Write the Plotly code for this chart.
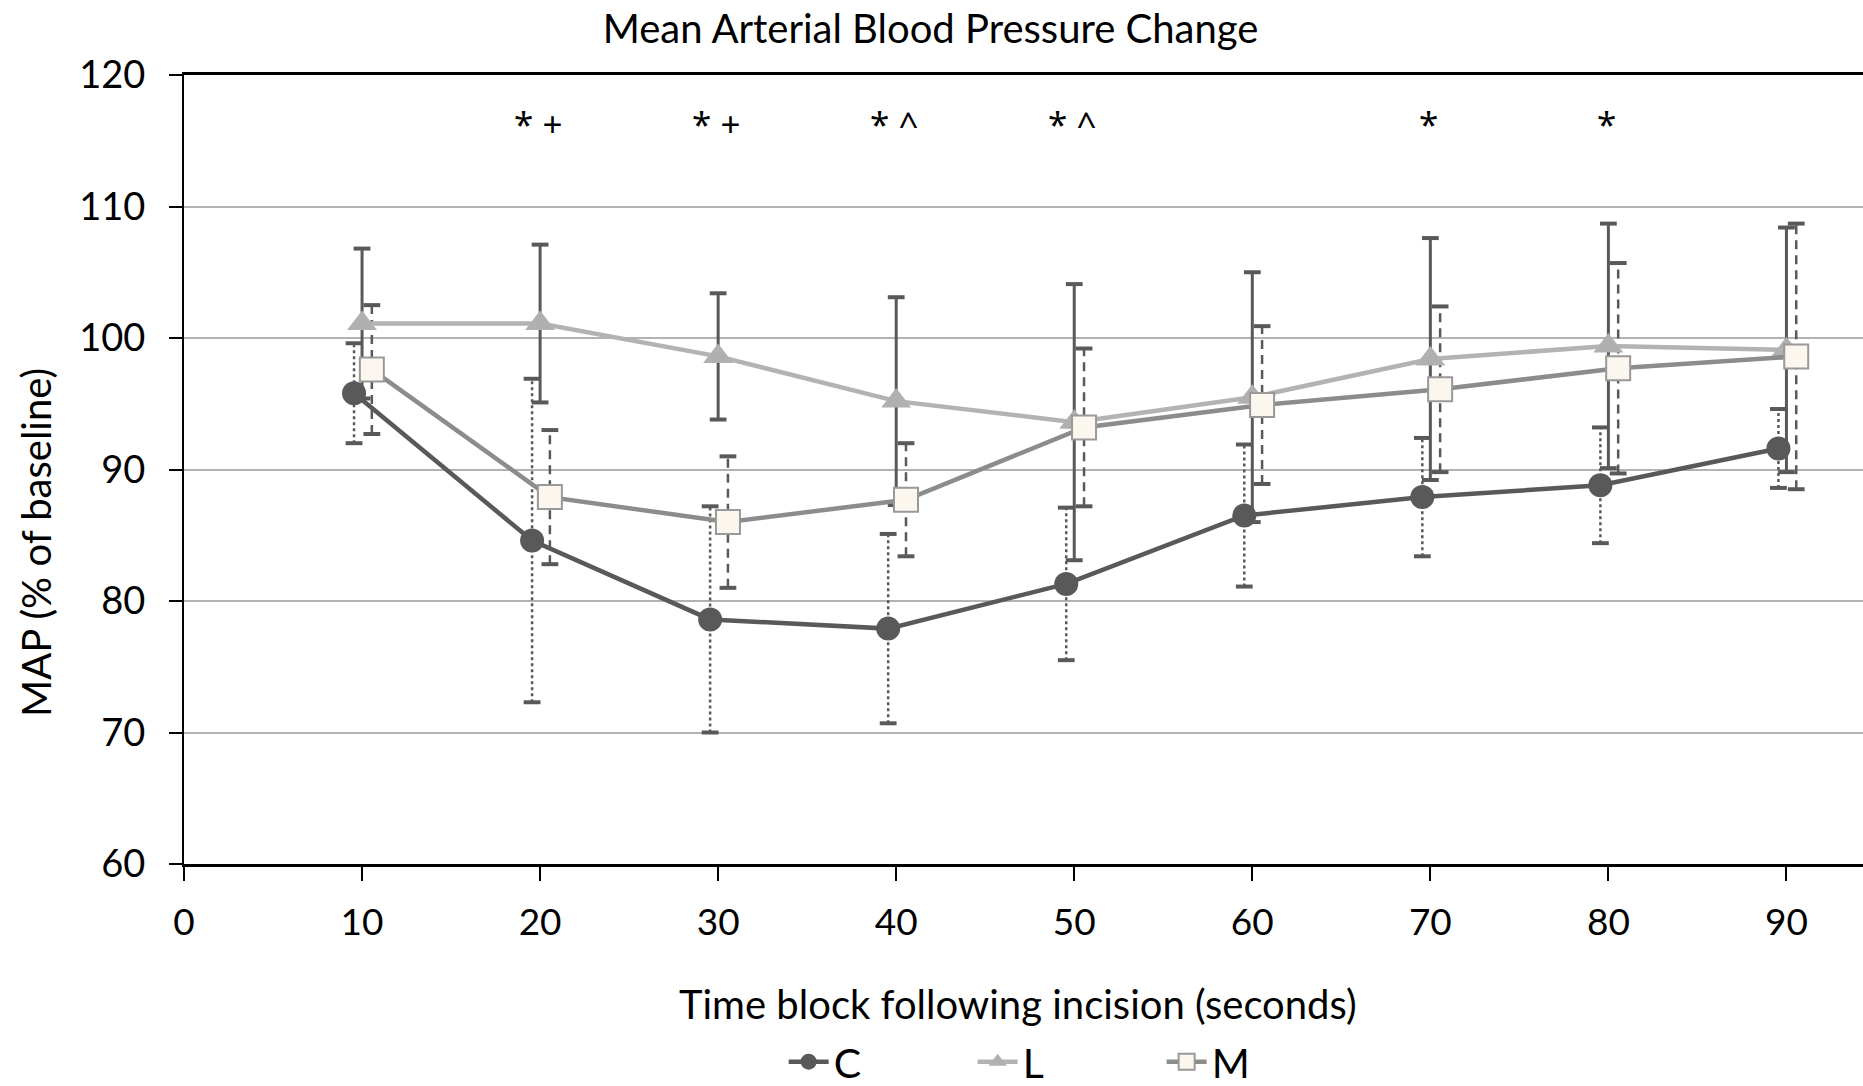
import plotly.graph_objects as go

# ---- data ----
time = [10, 20, 30, 40, 50, 60, 70, 80, 90]
C_mean = [95.8, 84.6, 78.6, 77.9, 81.3, 86.5, 87.9, 88.8, 91.6]
C_err = [3.8, 12.3, 8.6, 7.2, 5.8, 5.4, 4.5, 4.4, 3.0]
L_mean = [101.1, 101.1, 98.6, 95.2, 93.6, 95.5, 98.4, 99.4, 99.1]
L_err = [5.7, 6.0, 4.8, 7.9, 10.5, 9.5, 9.2, 9.3, 9.3]
M_mean = [97.6, 87.9, 86.0, 87.7, 93.2, 94.9, 96.1, 97.7, 98.6]
M_err = [4.9, 5.1, 5.0, 4.3, 6.0, 6.0, 6.3, 8.0, 10.1]
sig_time = [20, 30, 40, 50, 70, 80]
sig_text = ["* +", "* +", "* ^", "* ^", "*", "*"]

FONT = "Lato"
fig = go.Figure()

series = [
    dict(name="C", mean=C_mean, err=C_err, off=-0.45, line="#595959", dash="dot",
         marker=dict(symbol="circle", size=24, color="#595959")),
    dict(name="L", mean=L_mean, err=L_err, off=0.0, line="#b3b3b3", dash="solid",
         marker=dict(symbol="triangle-up", size=26, color="#b0b0b0")),
    dict(name="M", mean=M_mean, err=M_err, off=0.55, line="#8c8c8c", dash="9px,6px",
         marker=dict(symbol="square", size=24, color="#fcf7ee",
                     line=dict(color="#999999", width=2))),
]

# error bars (drawn first, beneath the lines)
for s in series:
    xs, ys, cx, cy = [], [], [], []
    for t, m, e in zip(time, s["mean"], s["err"]):
        x = t + s["off"]
        xs += [x, x, None]
        ys += [m - e, m + e, None]
        cx += [x, x]
        cy += [m - e, m + e]
    fig.add_trace(go.Scatter(x=xs, y=ys, mode="lines", showlegend=False, hoverinfo="skip",
                             line=dict(color="#595959", width=3 if s["dash"] == "solid" else 2.5,
                                       dash=s["dash"])))
    fig.add_trace(go.Scatter(x=cx, y=cy, mode="markers", showlegend=False, hoverinfo="skip",
                             marker=dict(symbol="line-ew", size=12,
                                         line=dict(color="#595959", width=4))))

for s in series:
    fig.add_trace(go.Scatter(
        x=[t + s["off"] for t in time], y=s["mean"], name=s["name"], mode="lines+markers",
        line=dict(color=s["line"], width=4.5), marker=s["marker"]))

for t, txt in zip(sig_time, sig_text):
    fig.add_annotation(x=t - 0.1, y=116.3, text=txt, showarrow=False,
                       font=dict(family="Noto Sans", size=35, color="#000000"))

fig.add_annotation(xref="paper", yref="paper", x=0.497, y=-0.1775, text="Time block following incision (seconds)",
                   showarrow=False, yanchor="middle", font=dict(family=FONT, size=40, color="#000000"))
fig.add_annotation(xref="paper", yref="paper", x=-0.0881, y=0.407, text="MAP (% of baseline)",
                   textangle=-90, showarrow=False, xanchor="center", yanchor="middle",
                   font=dict(family=FONT, size=40, color="#000000"))

fig.update_layout(
    width=1863, height=1086,
    margin=dict(l=184, r=0, t=75, b=222, autoexpand=False),
    paper_bgcolor="white", plot_bgcolor="white",
    title=dict(text="Mean Arterial Blood Pressure Change", x=0.4995, xref="container",
               y=1 - 29 / 1086, yref="container", xanchor="center", yanchor="middle",
               font=dict(family=FONT, size=40, color="#000000")),
    font=dict(family=FONT, color="#000000"),
    showlegend=True,
    legend=dict(orientation="h", x=0.526, y=-0.251, xanchor="center", yanchor="middle",
                font=dict(family=FONT, size=41, color="#000000"), itemwidth=40,
                entrywidth=134, bgcolor="rgba(0,0,0,0)", borderwidth=0),
    xaxis=dict(range=[0, 94.3], tickmode="array", tickvals=[0, 10, 20, 30, 40, 50, 60, 70, 80, 90],
               showgrid=False, zeroline=False, showline=True, linecolor="#000000", linewidth=2.5,
               mirror=True, ticks="outside", ticklen=14, tickwidth=1.5, tickcolor="#000000",
               tickfont=dict(family=FONT, size=37, color="#000000"), ticklabelstandoff=10),
    yaxis=dict(range=[60, 120], tickmode="array", tickvals=[60, 70, 80, 90, 100, 110, 120],
               showgrid=True, gridcolor="#b3b3b3", gridwidth=2, zeroline=False,
               showline=True, linecolor="#000000", linewidth=2, ticks="outside", ticklen=13,
               tickwidth=2, tickcolor="#000000",
               tickfont=dict(family=FONT, size=38, color="#000000"), ticklabelstandoff=16),
)

fig.write_html("out.html")
